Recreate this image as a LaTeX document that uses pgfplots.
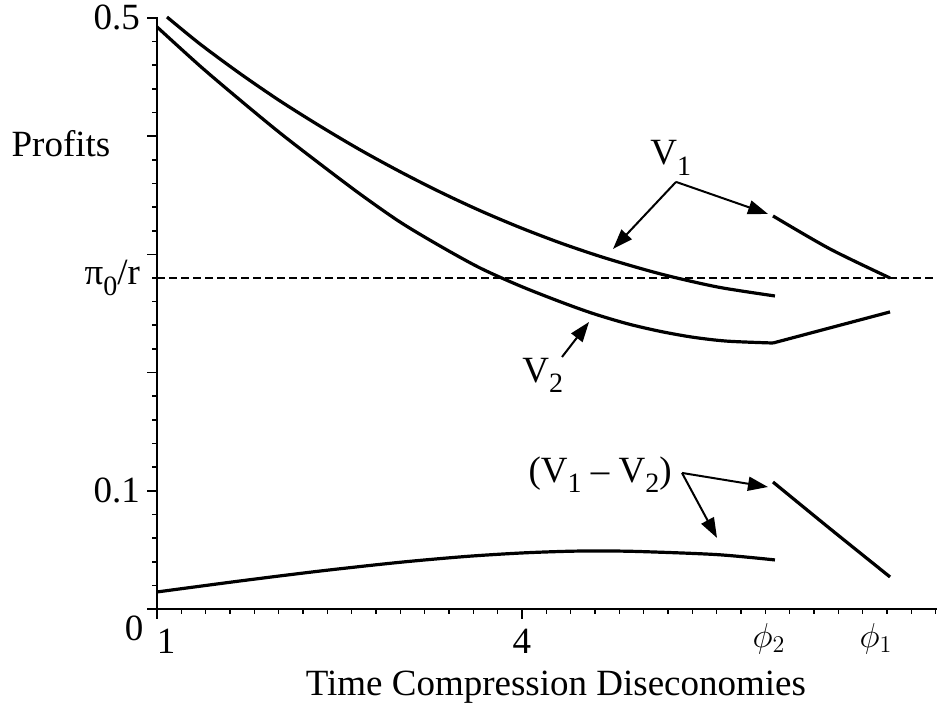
\documentclass[border=0pt]{standalone}
\usepackage{fontspec}
\setmainfont{Liberation Serif}
\usepackage{pgfplots}
\pgfplotsset{compat=1.18}
\usetikzlibrary{arrows.meta}
\newcommand{\sub}[1]{\raisebox{-0.28em}{\fontsize{14}{14}\selectfont #1}}

\begin{document}
\begin{tikzpicture}[
  ann/.style={line width=1pt, -{Triangle[length=10pt,width=7pt]}},
  lab/.style={font=\fontsize{18.5}{20}\selectfont, inner sep=0pt}]
\begin{axis}[
  scale only axis, width=390pt, height=296pt,
  xmin=1, xmax=7.411, ymin=0, ymax=0.5008,
  axis lines=left, axis line style={-, line width=1pt},
  clip=false,
  tick align=outside, tick style={black, line width=0.8pt},
  major tick length=5pt, minor tick length=2.5pt,
  xtick={1,4}, xticklabels={\hspace{9pt}1,4},
  minor xtick={1.2,1.4,...,7.4},
  ytick={0,0.1,0.2,0.3,0.4,0.5}, yticklabels={,0.1,,,,0.5},
  minor ytick={0.02,0.04,...,0.5},
  extra x ticks={6.03,6.91}, extra x tick labels={$\phi_2$,$\phi_1$},
  extra y ticks={0.28}, extra y tick labels={π\sub{0}/r},
  extra tick style={major tick length=0pt},
  extra y tick style={yticklabel style={xshift=-5pt}},
  extra x tick style={xticklabel style={yshift=-2pt}},
  tick label style={font=\fontsize{18.5}{20}\selectfont},
  xticklabel style={yshift=-4pt, inner sep=1pt},
]
% V1, first branch
\addplot[black, line width=1.6pt, smooth] coordinates {
(1.082,0.5008)(1.353,0.4780)(1.682,0.4530)(2.011,0.4298)(2.340,0.4085)
(2.668,0.3885)(2.997,0.3700)(3.326,0.3528)(3.655,0.3370)(3.984,0.3227)
(4.312,0.3098)(4.641,0.2983)(4.970,0.2882)(5.241,0.2808)(5.627,0.2720)
(6.079,0.2648)};
% V1, second branch
\addplot[black, line width=1.6pt, smooth] coordinates {
(6.063,0.3325)(6.531,0.3046)(7.025,0.2800)};
% V2
\addplot[black, line width=1.6pt, smooth] coordinates {
(1.000,0.4924)(1.353,0.4594)(1.682,0.4306)(2.011,0.4027)(2.340,0.3765)
(2.668,0.3511)(2.997,0.3274)(3.326,0.3071)(3.655,0.2885)(3.984,0.2733)
(4.312,0.2600)(4.583,0.2500)(4.863,0.2414)(5.134,0.2349)(5.405,0.2299)
(5.685,0.2266)(6.063,0.2250)};
\addplot[black, line width=1.6pt] coordinates {(6.063,0.2250)(7.025,0.2513)};
% V1 - V2
\addplot[black, line width=1.6pt, smooth] coordinates {
(1.000,0.0144)(1.682,0.0237)(2.340,0.0321)(2.997,0.0395)(3.548,0.0445)
(4.000,0.0474)(4.370,0.0488)(4.641,0.0491)(4.970,0.0486)(5.603,0.0460)
(6.079,0.0415)};
\addplot[black, line width=1.6pt, smooth] coordinates {
(6.063,0.1074)(6.531,0.0680)(7.025,0.0271)};
% pi_0 / r
\addplot[black, line width=1.2pt, dash pattern=on 4pt off 2pt] coordinates {(1,0.28)(7.411,0.28)};

% labels and arrows
\node[lab, anchor=base] at (axis cs:0.211,0.3824) {Profits};
\node[lab] at (axis cs:0.811,-0.016) {0};
\node[lab, anchor=base] at (axis cs:4.279,-0.0735) {Time Compression Diseconomies};
\node[lab, anchor=base west] at (axis cs:5.052,0.3756) {V\sub{1}};
\node[lab, anchor=base west] at (axis cs:4.0,0.192) {V\sub{2}};
\node[lab, anchor=base east] at (axis cs:5.233,0.1074) {(V\sub{1} -- V\sub{2})};
\draw[ann] (axis cs:5.266,0.3613) -- (axis cs:4.748,0.3046);
\draw[ann] (axis cs:5.266,0.3613) -- (axis cs:6.022,0.3342);
\draw[ann] (axis cs:4.329,0.2132) -- (axis cs:4.551,0.2428);
\draw[ann] (axis cs:5.315,0.1151) -- (axis cs:6.022,0.1032);
\draw[ann] (axis cs:5.315,0.1151) -- (axis cs:5.603,0.0601);

\coordinate (bl) at (rel axis cs:-0.2013,-0.1723);
\coordinate (tr) at (rel axis cs:1.0013,1.0287);
\end{axis}
\pgfresetboundingbox
\path[use as bounding box] (bl) rectangle (tr);
\end{tikzpicture}
\end{document}
